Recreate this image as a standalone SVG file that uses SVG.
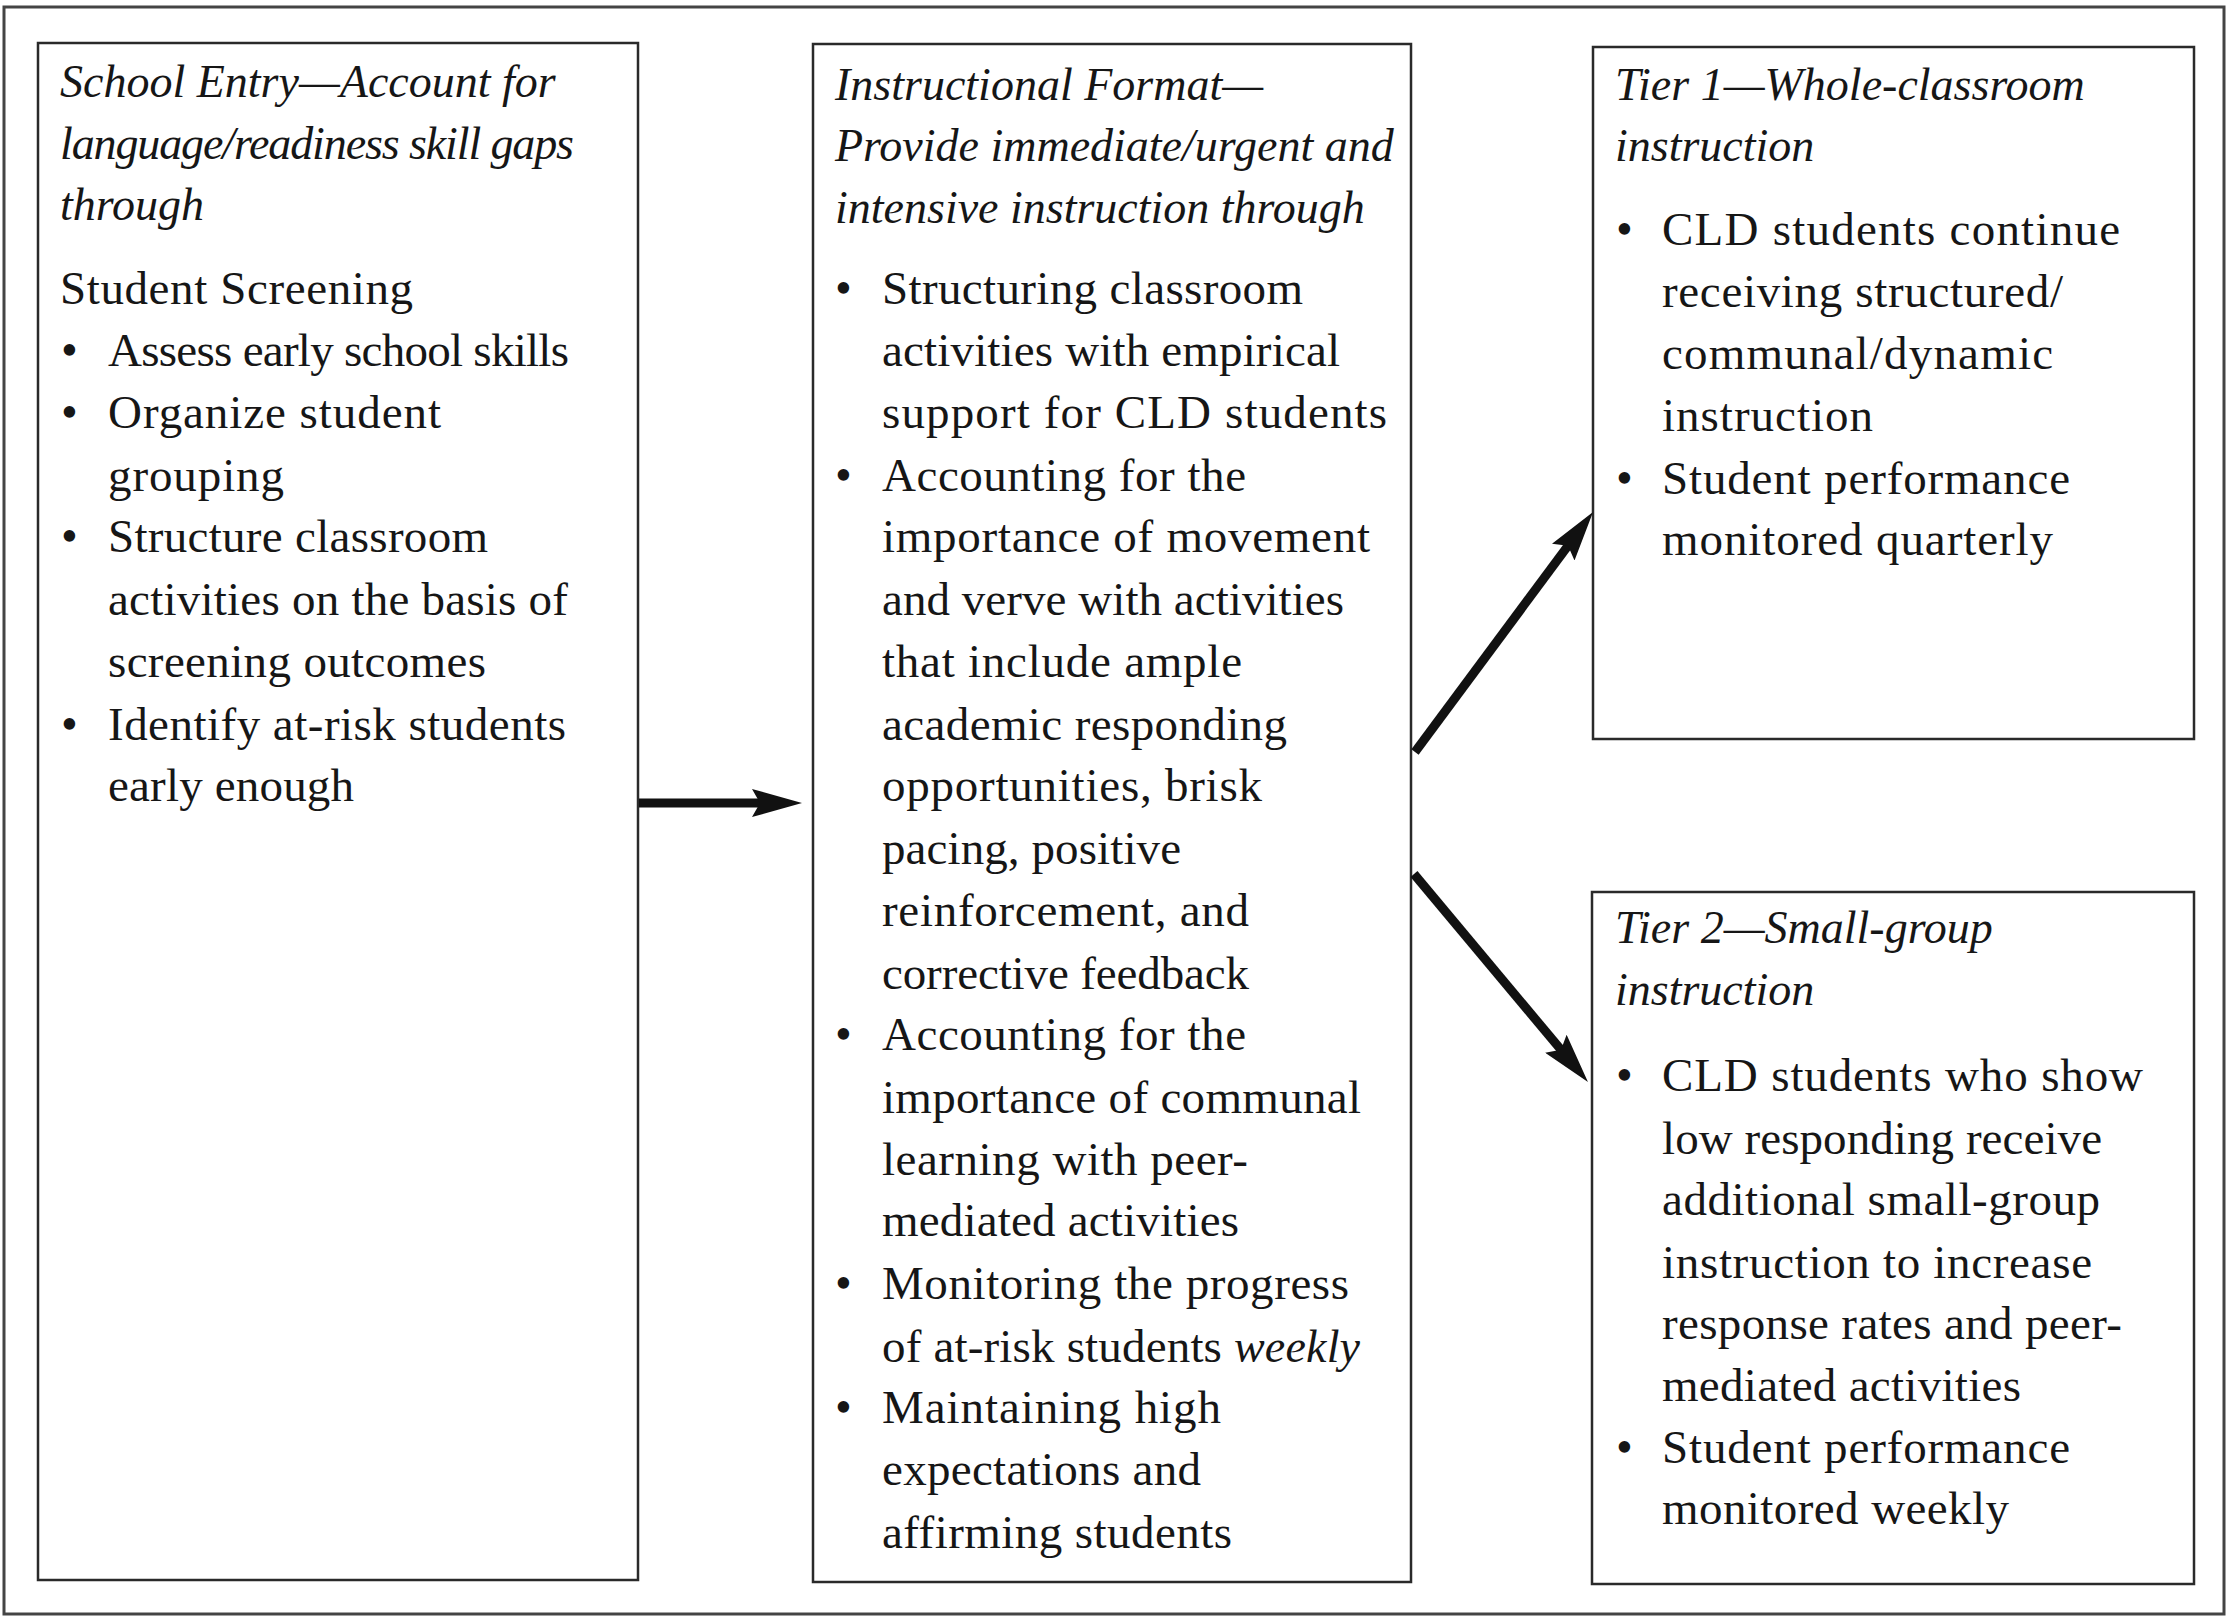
<svg xmlns="http://www.w3.org/2000/svg" width="2231" height="1618" viewBox="0 0 2231 1618">
<defs>
<style>
.box{fill:#fff;stroke:#2a2a2a;stroke-width:2.5}
.frame{fill:#fff;stroke:#444;stroke-width:3}
text{font-family:"Liberation Serif","Times New Roman",serif;font-size:47px;fill:#161616}
.it{font-style:italic;font-size:46px}
.b{font-size:48px}
.conn{stroke:#111;stroke-width:9;fill:none;marker-end:url(#ah)}
</style>
<marker id="ah" markerUnits="userSpaceOnUse" viewBox="0 0 50 28" markerWidth="50" markerHeight="28" refX="15" refY="14" orient="auto">
<path d="M0,0 L50,14 L0,28 L8,14 z" fill="#111"/>
</marker>
</defs>
<rect x="0" y="0" width="2231" height="1618" fill="#fff"/>
<rect class="frame" x="4" y="7" width="2220" height="1607"/>

<g id="school-entry">
<rect class="box" x="38" y="43" width="600" height="1537"/>
<text class="it" x="60" y="97">School Entry—Account for</text>
<text class="it" x="60" y="159" textLength="514">language/readiness skill gaps</text>
<text class="it" x="60" y="220">through</text>
<text x="60" y="304" textLength="353">Student Screening</text>
<text class="b" x="61" y="366">•</text><text x="108" y="366" textLength="461">Assess early school skills</text>
<text class="b" x="61" y="428">•</text><text x="108" y="428" textLength="333">Organize student</text>
<text x="108" y="491" textLength="176">grouping</text>
<text class="b" x="61" y="552">•</text><text x="108" y="552" textLength="380">Structure classroom</text>
<text x="108" y="615" textLength="460">activities on the basis of</text>
<text x="108" y="677" textLength="378">screening outcomes</text>
<text class="b" x="61" y="740">•</text><text x="108" y="740" textLength="458">Identify at-risk students</text>
<text x="108" y="801" textLength="246">early enough</text>
</g>

<g id="instructional-format">
<rect class="box" x="813" y="44" width="598" height="1538"/>
<text class="it" x="835" y="100">Instructional Format—</text>
<text class="it" x="835" y="161">Provide immediate/urgent and</text>
<text class="it" x="835" y="223">intensive instruction through</text>
<text class="b" x="835" y="304">•</text><text x="882" y="304" textLength="421">Structuring classroom</text>
<text x="882" y="366" textLength="458">activities with empirical</text>
<text x="882" y="428" textLength="505">support for CLD students</text>
<text class="b" x="835" y="491">•</text><text x="882" y="491" textLength="364">Accounting for the</text>
<text x="882" y="552" textLength="488">importance of movement</text>
<text x="882" y="615" textLength="462">and verve with activities</text>
<text x="882" y="677" textLength="360">that include ample</text>
<text x="882" y="740" textLength="405">academic responding</text>
<text x="882" y="801" textLength="380">opportunities, brisk</text>
<text x="882" y="864" textLength="299">pacing, positive</text>
<text x="882" y="926" textLength="367">reinforcement, and</text>
<text x="882" y="989" textLength="367">corrective feedback</text>
<text class="b" x="835" y="1050">•</text><text x="882" y="1050" textLength="364">Accounting for the</text>
<text x="882" y="1113" textLength="479">importance of communal</text>
<text x="882" y="1175" textLength="366">learning with peer-</text>
<text x="882" y="1236" textLength="357">mediated activities</text>
<text class="b" x="835" y="1299">•</text><text x="882" y="1299" textLength="467">Monitoring the progress</text>
<text x="882" y="1362" textLength="478">of at-risk students <tspan class="it">weekly</tspan></text>
<text class="b" x="835" y="1423">•</text><text x="882" y="1423" textLength="339">Maintaining high</text>
<text x="882" y="1485" textLength="319">expectations and</text>
<text x="882" y="1548" textLength="350">affirming students</text>
</g>

<g id="tier-1">
<rect class="box" x="1593" y="47" width="601" height="692"/>
<text class="it" x="1615" y="100">Tier 1—Whole-classroom</text>
<text class="it" x="1615" y="161">instruction</text>
<text class="b" x="1616" y="245">•</text><text x="1662" y="245" textLength="458">CLD students continue</text>
<text x="1662" y="307" textLength="401">receiving structured/</text>
<text x="1662" y="369" textLength="391">communal/dynamic</text>
<text x="1662" y="431" textLength="211">instruction</text>
<text class="b" x="1616" y="494">•</text><text x="1662" y="494" textLength="408">Student performance</text>
<text x="1662" y="555" textLength="391">monitored quarterly</text>
</g>

<g id="tier-2">
<rect class="box" x="1592" y="892" width="602" height="692"/>
<text class="it" x="1615" y="943">Tier 2—Small-group</text>
<text class="it" x="1615" y="1005">instruction</text>
<text class="b" x="1616" y="1091">•</text><text x="1662" y="1091" textLength="481">CLD students who show</text>
<text x="1662" y="1154" textLength="440">low responding receive</text>
<text x="1662" y="1215" textLength="438">additional small-group</text>
<text x="1662" y="1278" textLength="430">instruction to increase</text>
<text x="1662" y="1339" textLength="460">response rates and peer-</text>
<text x="1662" y="1401" textLength="359">mediated activities</text>
<text class="b" x="1616" y="1463">•</text><text x="1662" y="1463" textLength="408">Student performance</text>
<text x="1662" y="1524" textLength="347">monitored weekly</text>
</g>

<g id="connectors">
<line class="conn" x1="639" y1="803" x2="767" y2="803"/>
<line class="conn" x1="1415" y1="752" x2="1572.2" y2="540.1"/>
<line class="conn" x1="1414" y1="874" x2="1565.5" y2="1055.2"/>
</g>
</svg>
